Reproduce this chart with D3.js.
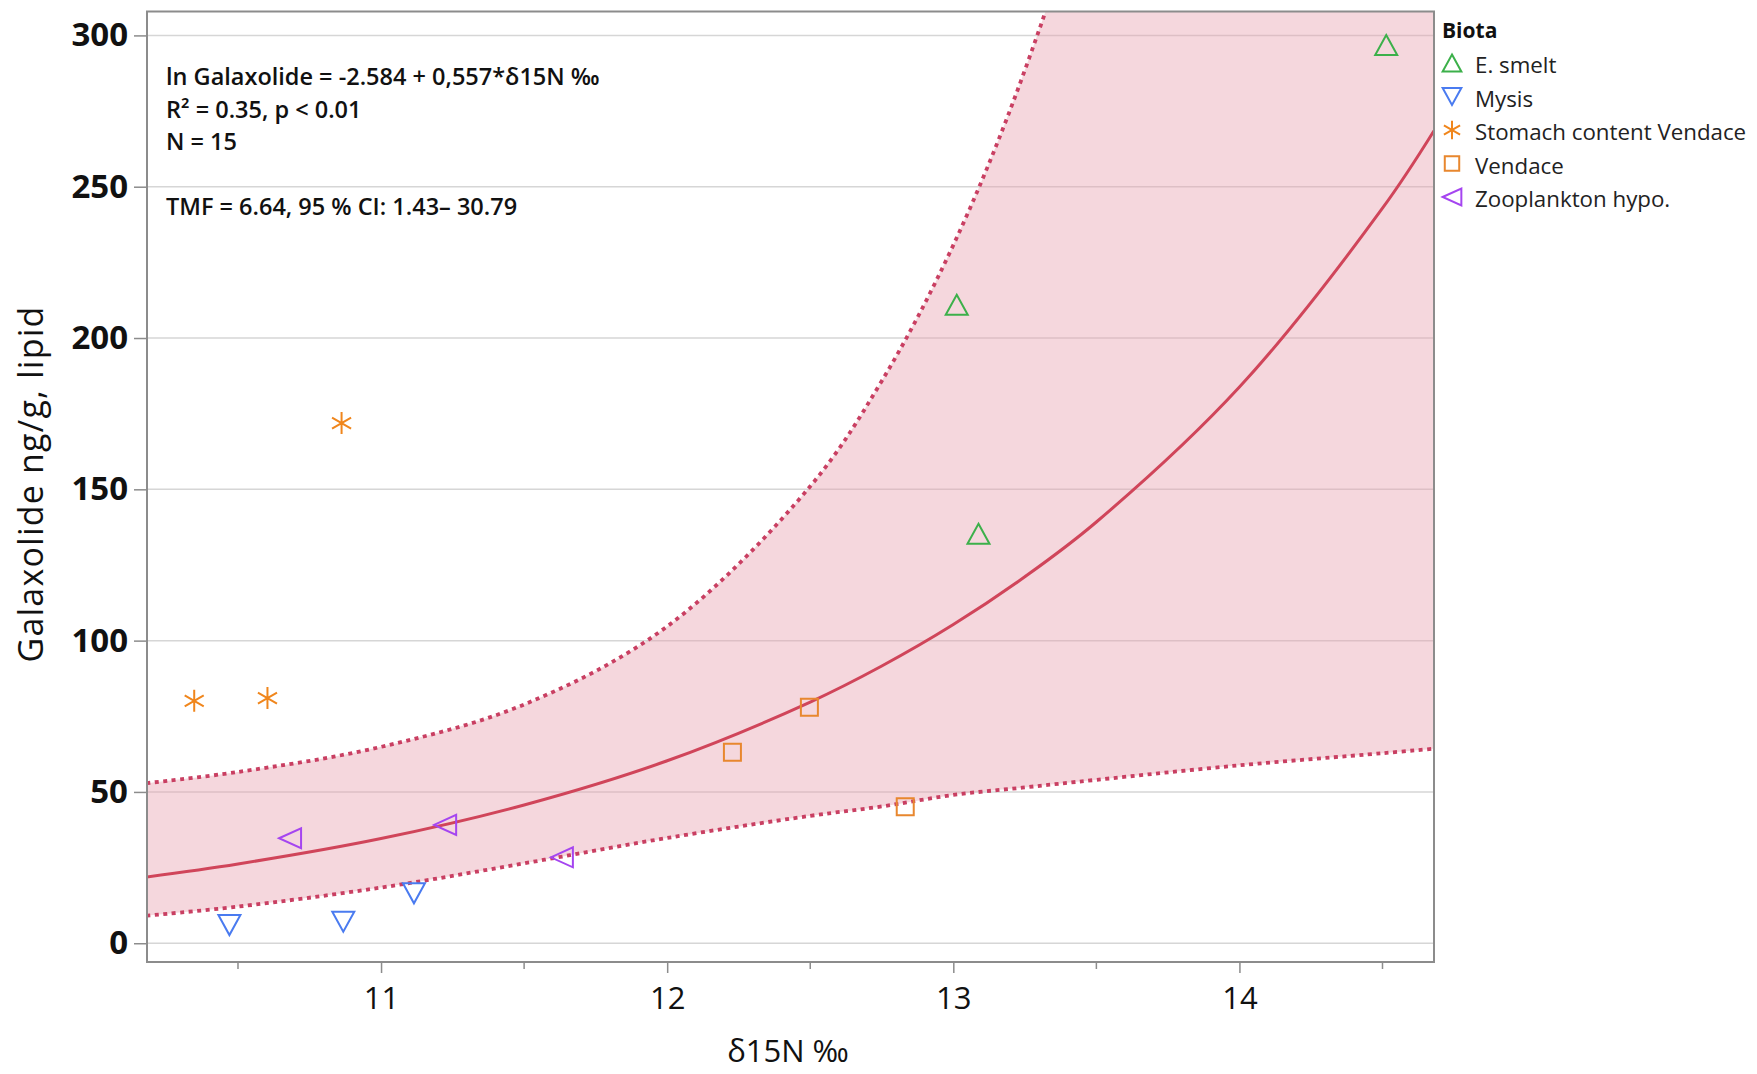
<!DOCTYPE html>
<html>
<head>
<meta charset="utf-8">
<script src="https://cdn.jsdelivr.net/npm/d3@7"></script>
<style>
  body { margin: 0; background: #fff; }
  svg { display: block; }
</style>
</head>
<body>
<script>
(function(){

//data
var smeltX = [14.513, 13.012, 13.088],
    smeltY = [296.8, 211.0, 135.3];
var mysisX = [10.470, 10.868, 11.115],
    mysisY = [6.0, 7.1, 16.5];
var stomachX = [10.347, 10.603, 10.862],
    stomachY = [80.1, 81.0, 171.9];
var vendaceX = [12.228, 12.497, 12.832],
    vendaceY = [63.1, 78.0, 45.1];
var zooX = [10.682, 11.224, 11.632],
    zooY = [34.7, 39.1, 28.4];

//fitted curve and 95% band, sampled along the x axis
var bandX  = [10.18, 10.5, 11, 11.5, 12, 12.5, 12.75, 13, 13.25, 13.5, 14, 14.5, 14.68];
var fitY   = [21.9, 26.2, 34.6, 45.7, 60.3, 79.7, 91.6, 105.3, 121.1, 139.2, 183.8, 242.9, 268.5];
var upperY = [52.9, 56.6, 64.9, 78.9, 104.7, 151.0, 185.8, 230.7, 288.5, 364, 583, 945, 1125];
var lowerY = [9.1, 12.1, 18.4, 26.4, 34.8, 42.1, 45.2, 49.0, 51.5, 54.0, 58.8, 62.8, 64.3];

//ticks
var yTicks = [0, 50, 100, 150, 200, 250, 300];
var xTicks = [11, 12, 13, 14];
var xMinor = [10.5, 11.5, 12.5, 13.5, 14.5];

var seriesNames = ["E. smelt", "Mysis", "Stomach content Vendace", "Vendace", "Zooplankton hypo."];
var seriesColors = ["#3cb04a", "#4a7bf0", "#f0861c", "#e8872e", "#a545f0"];
var seriesShapes = ["up", "down", "star", "square", "left"];

var statLines = [
    "ln Galaxolide = -2.584 + 0,557*\u03b415N \u2030",
    "R\u00b2 = 0.35, p < 0.01",
    "N = 15",
    "",
    "TMF = 6.64, 95 % CI: 1.43\u2013 30.79"
];

window.onload = setChart();

function setChart(){

    var width = 1757,
        height = 1074;

    //plot frame
    var left = 147, right = 1434, top = 11.5, bottom = 962;

    var svg = d3.select("body")
        .append("svg")
        .attr("width", width)
        .attr("height", height)
        .style("font-family", "'Open Sans', sans-serif");

    var x = d3.scaleLinear()
        .domain([10.182, 14.68])
        .range([left, right]);

    var y = d3.scaleLinear()
        .domain([-6.2, 307.9])
        .range([bottom, top]);

    svg.append("clipPath")
        .attr("id", "plotClip")
        .append("rect")
        .attr("x", left)
        .attr("y", top)
        .attr("width", right - left)
        .attr("height", bottom - top);

    //horizontal gridlines
    svg.append("g")
        .selectAll("line")
        .data(yTicks)
        .enter()
        .append("line")
        .attr("x1", left)
        .attr("x2", right)
        .attr("y1", function(d){ return y(d); })
        .attr("y2", function(d){ return y(d); })
        .attr("stroke", "#d6d6d6")
        .attr("stroke-width", 1.5);

    var idx = d3.range(bandX.length);
    var plot = svg.append("g").attr("clip-path", "url(#plotClip)");

    //confidence band
    var area = d3.area()
        .x(function(i){ return x(bandX[i]); })
        .y0(function(i){ return y(lowerY[i]); })
        .y1(function(i){ return y(upperY[i]); })
        .curve(d3.curveCatmullRom);

    plot.append("path")
        .datum(idx)
        .attr("d", area)
        .attr("fill", "#e8a0ad")
        .attr("fill-opacity", 0.42);

    function curveOf(arr){
        return d3.line()
            .x(function(i){ return x(bandX[i]); })
            .y(function(i){ return y(arr[i]); })
            .curve(d3.curveCatmullRom);
    };

    plot.append("path")
        .datum(idx)
        .attr("d", curveOf(upperY))
        .attr("fill", "none")
        .attr("stroke", "#c93f62")
        .attr("stroke-width", 3.8)
        .attr("stroke-dasharray", "4,4.5");

    plot.append("path")
        .datum(idx)
        .attr("d", curveOf(lowerY))
        .attr("fill", "none")
        .attr("stroke", "#c93f62")
        .attr("stroke-width", 3.8)
        .attr("stroke-dasharray", "4,4.5");

    plot.append("path")
        .datum(idx)
        .attr("d", curveOf(fitY))
        .attr("fill", "none")
        .attr("stroke", "#d0455a")
        .attr("stroke-width", 3);

    //frame
    svg.append("rect")
        .attr("x", left)
        .attr("y", top)
        .attr("width", right - left)
        .attr("height", bottom - top)
        .attr("fill", "none")
        .attr("stroke", "#8c8c8c")
        .attr("stroke-width", 2);

    //y axis
    var yAxis = svg.append("g")
        .attr("transform", "translate(" + left + ",0)")
        .call(d3.axisLeft(y).tickValues(yTicks).tickSize(13).tickPadding(6));
    yAxis.select(".domain").remove();
    yAxis.selectAll(".tick line").attr("stroke", "#8c8c8c").attr("stroke-width", 1.5);
    yAxis.selectAll(".tick text")
        .attr("fill", "#111")
        .style("font-family", "'Open Sans', sans-serif")
        .style("font-size", "33px")
        .style("font-weight", "700");

    //x axis
    var xAxis = svg.append("g")
        .attr("transform", "translate(0," + bottom + ")")
        .call(d3.axisBottom(x).tickValues(xTicks).tickFormat(d3.format("d")).tickSize(11).tickPadding(14));
    xAxis.select(".domain").remove();
    xAxis.selectAll(".tick line").attr("stroke", "#8c8c8c").attr("stroke-width", 1.5);
    xAxis.selectAll(".tick text")
        .attr("fill", "#111")
        .style("font-family", "'Open Sans', sans-serif")
        .style("font-size", "31px");

    svg.append("g")
        .selectAll("line")
        .data(xMinor)
        .enter()
        .append("line")
        .attr("x1", function(d){ return x(d); })
        .attr("x2", function(d){ return x(d); })
        .attr("y1", bottom)
        .attr("y2", bottom + 7)
        .attr("stroke", "#8c8c8c")
        .attr("stroke-width", 1.5);

    //axis titles
    svg.append("text")
        .attr("transform", "translate(30,484) rotate(-90)")
        .attr("text-anchor", "middle")
        .attr("dominant-baseline", "central")
        .style("font-size", "34px")
        .style("letter-spacing", "1.2px")
        .attr("fill", "#111")
        .text("Galaxolide ng/g, lipid");

    svg.append("text")
        .attr("x", 788)
        .attr("y", 1062)
        .attr("text-anchor", "middle")
        .style("font-size", "31px")
        .attr("fill", "#111")
        .text("\u03b415N \u2030");

    //points
    var groups = [
        [smeltX, smeltY],
        [mysisX, mysisY],
        [stomachX, stomachY],
        [vendaceX, vendaceY],
        [zooX, zooY]
    ];

    groups.forEach(function(g, s){
        svg.append("g")
            .selectAll("path")
            .data(d3.range(g[0].length))
            .enter()
            .append("path")
            .attr("transform", function(i){
                return "translate(" + x(g[0][i]) + "," + y(g[1][i]) + ")";
            })
            .attr("d", markerPath(seriesShapes[s]))
            .attr("fill", "none")
            .attr("stroke", seriesColors[s])
            .attr("stroke-width", 2);
    });

    //stats text
    svg.append("g")
        .selectAll("text")
        .data(statLines)
        .enter()
        .append("text")
        .attr("x", 166)
        .attr("y", function(d, i){ return 85 + i * 32.5; })
        .style("font-size", "23.5px")
        .style("font-weight", "600")
        .attr("fill", "#111")
        .text(function(d){ return d; });

    //legend
    var legend = svg.append("g");
    legend.append("text")
        .attr("x", 1442)
        .attr("y", 38)
        .style("font-size", "21px")
        .style("font-weight", "700")
        .attr("fill", "#111")
        .text("Biota");

    seriesNames.forEach(function(name, s){
        var base = 73 + s * 33.5;
        legend.append("path")
            .attr("transform", "translate(1452," + (base - 10) + ")")
            .attr("d", markerPath(seriesShapes[s], 0.85))
            .attr("fill", "none")
            .attr("stroke", seriesColors[s])
            .attr("stroke-width", 2);
        legend.append("text")
            .attr("x", 1475)
            .attr("y", base)
            .style("font-size", "22.3px")
            .attr("fill", "#222")
            .text(name);
    });

}; //end of setChart()

//outline symbol paths centred on the point
function markerPath(shape, k){
    k = k || 1;
    var p = d3.path();
    if (shape == "up"){
        p.moveTo(0, -10 * k); p.lineTo(11 * k, 10 * k); p.lineTo(-11 * k, 10 * k); p.closePath();
    } else if (shape == "down"){
        p.moveTo(-11 * k, -10 * k); p.lineTo(11 * k, -10 * k); p.lineTo(0, 10 * k); p.closePath();
    } else if (shape == "left"){
        p.moveTo(-11 * k, 0); p.lineTo(11 * k, -10 * k); p.lineTo(11 * k, 10 * k); p.closePath();
    } else if (shape == "square"){
        p.rect(-8.5 * k, -8.5 * k, 17 * k, 17 * k);
    } else {
        var r = 11 * k;
        [90, 30, -30].forEach(function(a){
            var t = a * Math.PI / 180;
            p.moveTo(-r * Math.cos(t), -r * Math.sin(t));
            p.lineTo(r * Math.cos(t), r * Math.sin(t));
        });
    }
    return p.toString();
};

})();
</script>
</body>
</html>
